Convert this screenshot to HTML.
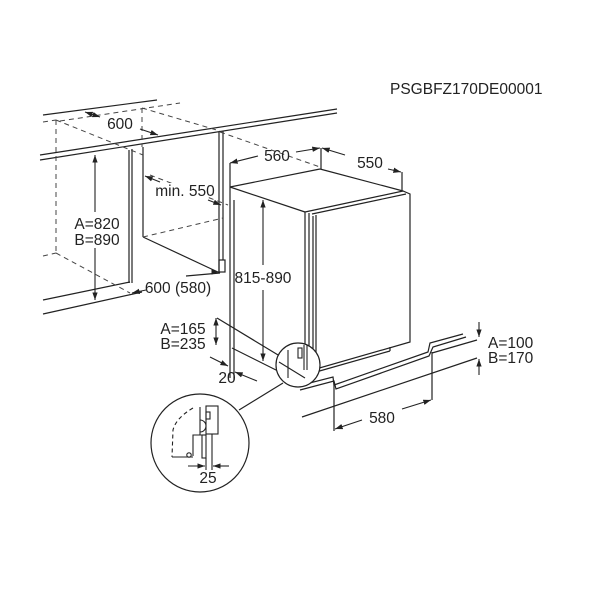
<!DOCTYPE html>
<html><head><meta charset="utf-8"><style>
html,body{margin:0;padding:0;background:#fff}
svg{display:block}
text{font-family:"Liberation Sans",sans-serif;font-size:15.5px;fill:#222}
</style></head><body>
<svg width="600" height="600" viewBox="0 0 600 600" xmlns="http://www.w3.org/2000/svg">
<defs>
<marker id="a" viewBox="0 0 10 10" refX="10" refY="5" markerWidth="7" markerHeight="7" orient="auto-start-reverse"><path d="M0,1.5 L10,5 L0,8.5 z" fill="#222"/></marker>
</defs>
<g stroke="#222" stroke-width="1.2" fill="none">
<line x1="43" y1="115" x2="157" y2="100"/>
<line x1="40" y1="155" x2="337" y2="109"/>
<line x1="40" y1="160" x2="337" y2="113"/>
<line x1="43" y1="300" x2="130" y2="282"/>
<line x1="43" y1="314" x2="142" y2="292"/>
<line x1="129" y1="150" x2="129" y2="283"/>
<line x1="132" y1="149" x2="132" y2="283"/>
<line x1="143" y1="147" x2="143" y2="237"/>
<line x1="143" y1="237" x2="220" y2="273"/>
<line x1="219" y1="132" x2="219" y2="272"/>
<line x1="223" y1="131" x2="223" y2="260"/>
<rect x="219" y="260" width="6" height="12"/>
<line x1="220" y1="273" x2="186" y2="276"/>
</g>
<g stroke="#444" stroke-width="1" fill="none" stroke-dasharray="5,4">
<line x1="43" y1="122" x2="56" y2="120"/>
<line x1="56" y1="120" x2="56" y2="253"/>
<line x1="43" y1="256" x2="56" y2="253"/>
<line x1="56" y1="253" x2="130" y2="293"/>
<line x1="60" y1="121" x2="180" y2="103"/>
<line x1="56" y1="120" x2="143" y2="155"/>
<line x1="142" y1="108" x2="142" y2="147"/>
<line x1="142" y1="108" x2="220" y2="131"/>
<line x1="150" y1="175" x2="228" y2="205"/>
<line x1="143" y1="237" x2="223" y2="218"/>
<line x1="220" y1="132" x2="320" y2="167"/>
</g>
<g stroke="#222" stroke-width="1.2" fill="none">
<line x1="230" y1="187" x2="320" y2="169"/>
<line x1="320" y1="169" x2="403" y2="191"/>
<line x1="230" y1="187" x2="305" y2="212"/>
<line x1="230" y1="187" x2="230" y2="378"/>
<line x1="234" y1="200" x2="234" y2="380"/>
<path d="M305 212 L403 191 L410 194 L410 342 L316 369 L305 366 Z"/>
<line x1="309" y1="213" x2="309" y2="366"/>
<line x1="312" y1="214" x2="406" y2="194"/>
<line x1="313" y1="216" x2="313" y2="368"/>
<line x1="316" y1="215" x2="316" y2="369"/>
<line x1="316" y1="372" x2="390" y2="351"/>
<line x1="390" y1="347" x2="390" y2="351"/>
<line x1="217" y1="318" x2="293" y2="364"/>
<line x1="232" y1="348" x2="280" y2="372"/>
<path d="M298 386 L333 377 L334 385 L428 352 L430 343 L463 334"/>
<path d="M300 390 L334 381 L336 389 L429 356 L433 347 L466 337"/>
<line x1="334" y1="382" x2="334" y2="431"/>
<line x1="432" y1="352" x2="432" y2="400"/>
<line x1="302" y1="417" x2="477" y2="358"/>
<line x1="432" y1="353" x2="477" y2="340"/>
<line x1="230" y1="163" x2="230" y2="187"/>
<line x1="321" y1="148" x2="321" y2="169"/>
<line x1="402" y1="172" x2="402" y2="191"/>
<circle cx="298" cy="365" r="22" fill="#fff"/>
<circle cx="200" cy="443" r="49"/>
<line x1="239" y1="410" x2="283" y2="383"/>
</g>
<g stroke="#222" stroke-width="1.1" fill="none">
<line x1="288" y1="350" x2="288" y2="378"/>
<line x1="279" y1="362" x2="305" y2="378"/>
<rect x="298" y="348" width="4" height="10"/>
<line x1="304" y1="345" x2="304" y2="370"/>
<line x1="307" y1="345" x2="307" y2="370"/>
</g>
<g stroke="#222" stroke-width="1.1" fill="none">
<path d="M193 408 Q176 418 173 430 L172 457" stroke-dasharray="4,3"/>
<line x1="172" y1="457" x2="193" y2="457"/>
<circle cx="189" cy="455" r="2.2"/>
<path d="M193 456 L193 435 L202 435"/>
<rect x="202" y="435" width="4" height="23"/>
<line x1="200" y1="407" x2="200" y2="435"/>
<path d="M200 420 A6 6 0 0 1 200 432"/>
<rect x="206" y="406" width="12" height="28"/>
<rect x="206" y="412" width="4" height="7"/>
<line x1="206" y1="458" x2="206" y2="470"/>
<line x1="212" y1="434" x2="212" y2="470"/>
</g>
<g stroke="#222" stroke-width="1.1" fill="none" marker-end="url(#a)">
<line x1="85" y1="112" x2="100" y2="117" marker-start="url(#a)" marker-end=""/>
<line x1="140" y1="129" x2="158" y2="135"/>
<line x1="95" y1="212" x2="95" y2="155"/>
<line x1="95" y1="248" x2="95" y2="300"/>
<line x1="160" y1="182" x2="145" y2="176"/>
<line x1="208" y1="200" x2="221" y2="205"/>
<line x1="146" y1="290" x2="132" y2="293"/>
<line x1="212" y1="272" x2="219" y2="272"/>
<line x1="263" y1="265" x2="263" y2="200"/>
<line x1="263" y1="290" x2="263" y2="361"/>
<line x1="216" y1="331" x2="216" y2="318"/>
<line x1="216" y1="331" x2="216" y2="345"/>
<line x1="210" y1="357" x2="228" y2="366"/>
<line x1="257" y1="381" x2="235" y2="372"/>
<line x1="258" y1="156" x2="230" y2="163"/>
<line x1="296" y1="152" x2="320" y2="148"/>
<line x1="345" y1="155" x2="322" y2="148"/>
<line x1="388" y1="169" x2="401" y2="172"/>
<line x1="362" y1="420" x2="335" y2="429"/>
<line x1="402" y1="409" x2="431" y2="400"/>
<line x1="479" y1="322" x2="479" y2="337"/>
<line x1="479" y1="375" x2="479" y2="359"/>
<line x1="188" y1="466" x2="205" y2="466"/>
<line x1="229" y1="466" x2="213" y2="466"/>
</g>
<rect x="235" y="267" width="58" height="18" fill="#fff"/>
<rect x="155" y="183" width="62" height="14" fill="#fff"/>
<text x="390" y="94">PSGBFZ170DE00001</text>
<text x="120" y="129" text-anchor="middle">600</text>
<text x="97" y="229" text-anchor="middle">A=820</text>
<text x="97" y="245" text-anchor="middle">B=890</text>
<text x="185" y="196" text-anchor="middle">min. 550</text>
<text x="178" y="293" text-anchor="middle">600 (580)</text>
<text x="263" y="283" text-anchor="middle">815-890</text>
<text x="277" y="161" text-anchor="middle">560</text>
<text x="370" y="168" text-anchor="middle">550</text>
<text x="183" y="334" text-anchor="middle">A=165</text>
<text x="183" y="349" text-anchor="middle">B=235</text>
<text x="227" y="383" text-anchor="middle">20</text>
<text x="382" y="423" text-anchor="middle">580</text>
<text x="488" y="348">A=100</text>
<text x="488" y="363">B=170</text>
<text x="208" y="483" text-anchor="middle">25</text>
</svg>
</body></html>
